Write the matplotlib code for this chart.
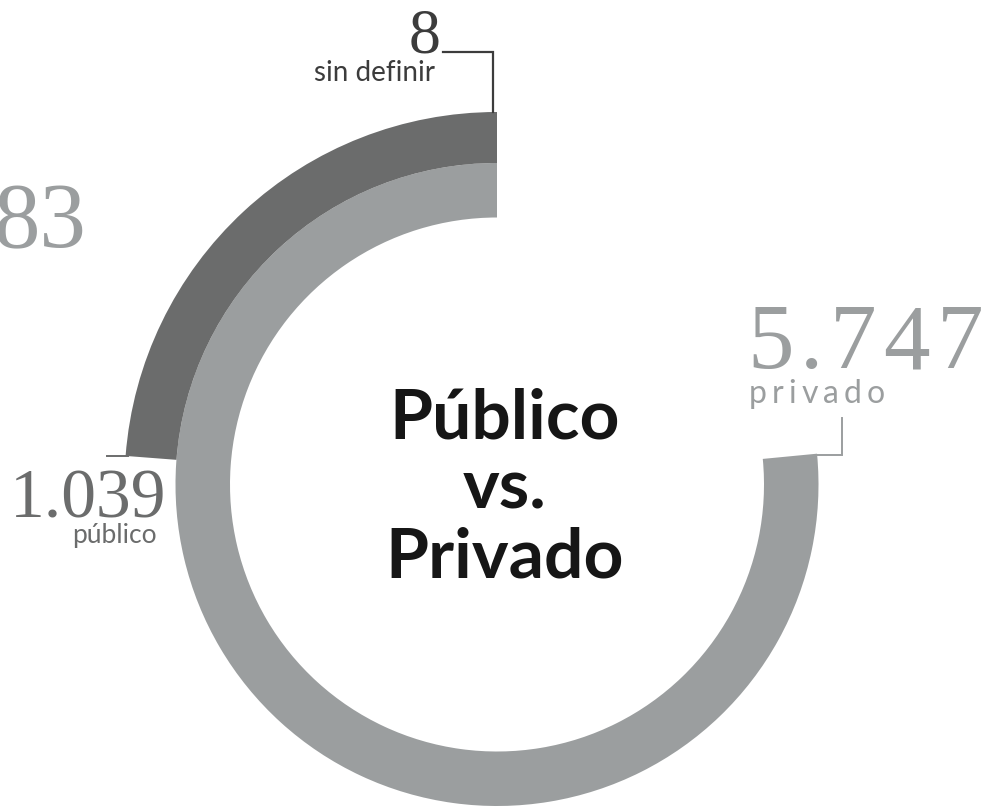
import matplotlib.pyplot as plt
from matplotlib.patches import Wedge

labels = ['sin definir', 'privado', 'público']
values = ['8', '5.747', '1.039']
cut_value = '83'
title_lines = ['Público', 'vs.', 'Privado']

# arcs start at 12 o'clock and run counter-clockwise (degrees)
arc_start = 90
arc_span_privado = 275.5
arc_span_publico = 85.6

W, H = 986, 809
fig = plt.figure(figsize=(W / 100, H / 100), dpi=100)
ax = fig.add_axes([0, 0, 1, 1])
ax.set_xlim(0, W)
ax.set_ylim(0, H)
ax.axis('off')
renderer = fig.canvas.get_renderer()


def Y(py):
    # pixel row (from top) to data y
    return H - py


def spaced_text(x, y, s, width, **kw):
    # letter-spaced text spread over a given width (in pixels)
    parts = []
    for ch in s:
        t = ax.text(0, y, ch, ha='left', va='baseline', **kw)
        parts.append((t, t.get_window_extent(renderer).width))
    gap = (width - sum(w for _, w in parts)) / (len(parts) - 1)
    for t, w in parts:
        t.set_x(x)
        x += w + gap


cx, cy = 497, Y(484.5)
dark = '#6b6c6c'
light = '#9b9e9f'
ink = '#3c3c3c'

# inner light ring: privado
ax.add_patch(Wedge((cx, cy), 321.5, arc_start, arc_start + arc_span_privado,
                   width=54.5, facecolor=light, edgecolor='none'))
# outer dark ring: público
ax.add_patch(Wedge((cx, cy), 372.5, arc_start, arc_start + arc_span_publico,
                   width=51, facecolor=dark, edgecolor='none'))

num_font = 'Liberation Serif'
lab_font = 'Lato'

# sin definir
ax.text(425, Y(52), values[0], ha='center', va='baseline', fontsize=46,
        family=num_font, color=ink)
ax.text(435, Y(81), labels[0], ha='right', va='baseline', fontsize=20,
        family=lab_font, color=ink)
ax.plot([443, 493, 493], [Y(52), Y(52), Y(112)], color=ink, lw=1.6,
        solid_joinstyle='miter')

# privado
spaced_text(747, Y(368), values[1], 236, fontsize=67, family=num_font,
            color=light)
spaced_text(749, Y(403), labels[1], 136, fontsize=23, family=lab_font,
            color=light)
ax.plot([842, 842, 817], [Y(418), Y(455), Y(455)], color=light, lw=1.4,
        solid_joinstyle='miter')

# público
ax.text(166, Y(518), values[2], ha='right', va='baseline', fontsize=50,
        family=num_font, color=dark)
ax.text(157, Y(543), labels[2], ha='right', va='baseline', fontsize=19,
        family=lab_font, color=dark)
ax.plot([107, 128], [Y(455.5), Y(455.5)], color=dark, lw=1.4)

# number cut off at the left edge
ax.text(86, Y(247), cut_value, ha='right', va='baseline', fontsize=67,
        family=num_font, color=light)

# centre title
for line, base in zip(title_lines, [438, 508, 578]):
    ax.text(505, Y(base), line, ha='center', va='baseline', fontsize=50,
            family=lab_font, weight='bold', color='#161616')

fig.savefig('out.png', dpi=100)
